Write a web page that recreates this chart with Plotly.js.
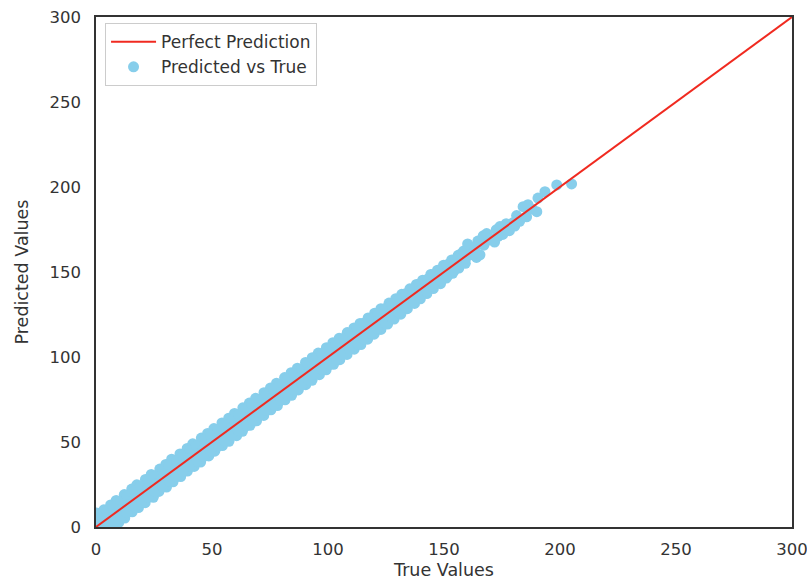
<!DOCTYPE html>
<html>
<head>
<meta charset="utf-8">
<script src="https://cdn.plot.ly/plotly-3.0.1.min.js"></script>
<style>html,body{margin:0;padding:0;background:#fff;}#chart{width:807px;height:581px;}</style>
</head>
<body>
<div id="chart"></div>
<script>
// True values (x) of the scatter
const trueVals = [
  0.2,0.8,2.6,8.6, 3.4,2.7,4.1,9.8, 6.3,5.8,6.6,12.4, 8.7,9.4,9.1,15.6,
  12.2,11.6,12.8,18.3, 15.4,14.8,15.5,21.2, 17.6,18.3,18.7,24.7, 21.3,20.7,21.4,27.1,
  23.8,24.5,24.2,30.4, 27.5,26.6,27.8,33.2, 30.1,29.7,30.6,36.5, 32.6,33.3,33.2,39.4,
  36.2,35.8,36.4,42.3, 39.3,38.6,39.7,45.1, 41.7,42.4,42.5,48.6, 45.4,44.7,45.3,51.2,
  48.1,47.6,48.8,54.5, 50.8,51.3,51.6,57.3, 54.3,53.7,54.2,60.6, 57.2,56.6,57.7,63.1,
  59.7,60.4,60.5,66.4, 63.3,62.8,63.4,69.2, 66.1,65.6,66.8,72.3, 68.8,69.4,69.2,75.4,
  72.4,71.7,72.6,78.2, 75.2,74.6,75.3,81.5, 77.8,78.3,78.7,84.3, 81.3,80.7,81.4,87.2,
  84.1,83.6,84.6,90.4, 86.8,87.3,87.5,93.1, 90.3,89.7,90.2,96.3, 93.2,92.6,93.7,99.2,
  95.8,96.4,96.5,102.4, 99.3,98.7,99.4,105.1, 102.1,101.6,102.7,108.2, 104.8,105.4,105.3,111.3,
  108.3,107.7,108.6,114.2, 111.2,110.6,111.5,117.1, 113.8,114.4,114.3,119.9, 117.3,116.7,117.6,122.8,
  120.1,119.6,120.5,125.7, 122.8,123.4,123.3,128.5, 126.3,125.7,126.6,131.4, 129.2,128.6,129.4,134.2,
  131.8,132.4,132.3,137.3, 135.3,134.7,135.6,139.8, 138.1,137.6,138.5,142.6, 140.8,141.4,141.3,145.4,
  144.3,143.7,144.6,148.5, 147.2,146.6,147.4,151.0, 149.8,150.4,150.3,153.7, 153.3,152.7,153.6,156.4,
  156.1,155.6,156.4,159.2,
  1.7,1.2,5.9, 4.8,4.3,9.6, 7.3,7.9,7.6, 10.8,10.2,10.7, 13.4,13.8,13.3, 16.7,16.3,16.9,
  19.2,19.8,19.6, 22.8,22.3,22.6, 25.4,25.7,25.3, 28.7,28.2,28.9, 31.3,31.8,31.6, 34.8,34.4,34.6,
  37.4,37.7,37.3, 40.6,40.2,40.9, 43.3,43.8,43.6, 46.8,46.3,46.5, 49.4,49.7,49.3, 52.7,52.2,52.8,
  55.3,55.8,55.6, 58.8,58.4,58.5, 61.4,61.7,61.3, 64.6,64.2,64.9, 67.3,67.8,67.6, 70.8,70.3,70.5,
  73.4,73.7,73.3, 76.7,76.2,76.8, 79.3,79.8,79.6, 82.8,82.4,82.5, 85.4,85.7,85.3, 88.6,88.2,88.9,
  91.3,91.8,91.6, 94.8,94.3,94.5, 97.4,97.7,97.3, 100.7,100.2,100.8, 103.3,103.8,103.6, 106.8,106.4,106.5,
  109.4,109.7,109.3, 112.6,112.2,112.9, 115.3,115.8,115.6, 118.8,118.3,118.5, 121.4,121.7,121.3, 124.7,124.2,124.8,
  127.3,127.8,127.6, 130.8,130.4,130.5, 133.4,133.7,133.3, 136.6,136.2,136.9, 139.3,139.8,139.6, 142.8,142.3,142.5,
  145.4,145.7,145.3, 148.7,148.2,148.8, 151.3,151.8,151.6, 154.8,154.3,154.5,
  157.5,159.3,162.5,164.0,169.0,173.3,177.5,180.5,
  158.5,160.2,161.8,163.4,164.6,165.5,166.9,168.4,167.2,170.1,171.8,172.5,174.1,175.3,
  176.8,178.2,179.7,181.3,182.6,184.1,185.6,186.2,188.0,190.0,190.5,193.5,198.6,205.0
];
// Predicted values (y) of the scatter
const predVals = [
  8.3,3.1,0.4,0.4, 10.1,5.2,1.6,2.7, 13.0,8.1,4.2,5.3, 15.6,11.7,7.0,8.9,
  19.1,14.0,10.5,11.4, 22.3,17.2,13.1,14.3, 24.8,20.6,16.4,17.5, 28.0,23.4,19.2,20.9,
  30.9,26.7,22.0,23.5, 34.1,29.3,25.5,26.6, 36.8,32.4,28.2,29.7, 39.9,35.6,31.0,32.9,
  43.0,38.3,34.1,35.6, 46.2,41.5,37.3,38.2, 48.9,44.6,40.2,41.8, 52.3,47.1,43.4,44.6,
  55.0,50.4,46.1,47.9, 57.9,53.5,49.0,50.4, 61.2,56.4,52.3,53.7, 64.0,59.5,55.1,56.3,
  66.8,62.6,58.3,59.8, 70.1,65.3,61.2,62.5, 72.9,68.4,64.4,65.6, 75.7,71.6,67.0,68.9,
  79.0,74.3,70.5,71.4, 81.8,77.5,73.2,74.8, 84.6,80.4,76.4,77.5, 87.9,83.2,79.3,80.6,
  90.8,86.3,82.1,83.7, 93.4,89.4,85.2,86.3, 96.8,92.1,88.4,89.6, 99.6,95.3,91.3,92.5,
  102.3,98.5,94.2,95.7, 105.5,101.2,97.3,98.4, 108.4,104.2,100.3,101.5, 111.0,107.3,103.2,104.6,
  114.4,110.1,106.4,107.3, 117.1,113.2,109.2,110.5, 119.7,116.3,112.1,113.4, 123.0,119.0,115.3,116.2,
  125.8,122.2,118.2,119.4, 128.4,125.3,121.1,122.3, 131.7,128.1,124.4,125.2, 134.3,131.0,127.3,128.4,
  136.9,134.2,130.2,131.5, 140.1,137.1,133.1,134.2, 142.7,140.0,136.4,137.3, 145.2,143.1,139.2,140.3,
  148.6,146.0,142.3,143.1, 151.1,149.1,145.2,146.4, 154.0,152.2,148.1,149.2, 157.1,155.0,151.2,152.3,
  159.8,158.1,154.3,155.1,
  6.0,1.3,1.0, 9.2,4.1,4.6, 12.2,7.3,2.6, 15.0,10.4,5.8, 18.2,13.1,8.6, 21.0,16.3,11.8,
  24.1,19.1,14.7, 27.2,22.3,17.6, 30.0,25.1,20.8, 33.2,28.3,23.6, 36.1,31.2,26.8, 39.0,34.3,29.7,
  42.2,37.1,32.6, 45.1,40.3,35.8, 48.0,43.2,38.7, 51.2,46.1,41.6, 54.1,49.3,44.8, 57.0,52.1,47.7,
  60.2,55.2,50.6, 63.1,58.3,53.8, 66.0,61.1,56.7, 69.2,64.3,59.6, 72.1,67.2,62.8, 75.0,70.1,65.7,
  78.2,73.3,68.6, 81.1,76.1,71.8, 84.0,79.2,74.7, 87.2,82.3,77.6, 90.1,85.1,80.8, 93.0,88.3,83.7,
  96.2,91.2,86.6, 99.1,94.1,89.8, 102.0,97.3,92.7, 105.2,100.1,95.6, 108.1,103.2,98.8, 111.0,106.3,101.7,
  114.0,109.1,104.6, 117.0,112.3,107.8, 119.9,115.2,110.7, 122.8,118.1,113.8, 125.7,121.3,116.9, 128.6,124.2,119.9,
  131.5,127.1,123.0, 134.3,130.3,126.1, 137.2,133.2,129.2, 140.0,136.1,132.3, 142.9,139.3,135.4, 145.7,142.2,138.6,
  148.6,145.1,141.7, 151.4,148.3,144.8, 154.2,151.2,147.9, 157.1,154.1,151.0,
  160.8,157.9,163.1,158.6,168.8,171.0,177.2,177.0,
  162.4,166.5,160.3,164.6,168.2,160.1,171.3,172.6,165.8,169.4,167.6,174.8,176.7,172.1,
  178.4,174.3,178.9,183.2,179.8,188.4,182.5,189.6,187.1,185.5,193.5,197.2,201.2,201.8
];
// Perfect prediction reference line
const lineX = [0, 300];
const lineY = [0, 300];
const tickVals = [0, 50, 100, 150, 200, 250, 300];
const tickText = ['0', '50', '100', '150', '200', '250', '300'];

const FONT = 'DejaVu Sans, sans-serif';
const TXT = '#333333';

const traces = [
  {
    type: 'scatter', mode: 'markers', name: 'Predicted vs True',
    x: trueVals, y: predVals,
    marker: {color: '#87CEEB', size: 11, line: {width: 0}}
  },
  {
    type: 'scatter', mode: 'lines', name: 'Perfect Prediction',
    x: lineX, y: lineY,
    line: {color: '#f02a20', width: 2}
  }
];

const axisBase = {
  range: [0, 300], autorange: false,
  showgrid: false, zeroline: false,
  showline: true, mirror: true, linecolor: '#333333', linewidth: 1.6,
  ticks: '', tickmode: 'array', tickvals: tickVals, ticktext: tickText,
  tickfont: {family: FONT, size: 16.5, color: TXT},
  ticklabeloverflow: 'allow'
};

const layout = {
  width: 807, height: 581,
  margin: {l: 96, r: 15, t: 17, b: 54, autoexpand: false},
  paper_bgcolor: '#ffffff', plot_bgcolor: '#ffffff',
  font: {family: FONT, color: TXT},
  showlegend: true,
  legend: {
    x: 0.013, y: 0.988, xanchor: 'left', yanchor: 'top',
    traceorder: 'reversed', itemwidth: 45,
    bgcolor: '#ffffff', bordercolor: '#cccccc', borderwidth: 1,
    font: {family: FONT, size: 17, color: TXT}
  },
  xaxis: Object.assign({}, axisBase, {
    ticklabelstandoff: 7,
    title: {text: 'True Values', font: {family: FONT, size: 17.5, color: TXT}, standoff: 5}
  }),
  yaxis: Object.assign({}, axisBase, {
    ticklabelstandoff: 10,
    title: {text: 'Predicted Values', font: {family: FONT, size: 17.5, color: TXT}, standoff: 16}
  })
};

Plotly.newPlot('chart', traces, layout, {displayModeBar: false, staticPlot: true});
</script>
</body>
</html>
